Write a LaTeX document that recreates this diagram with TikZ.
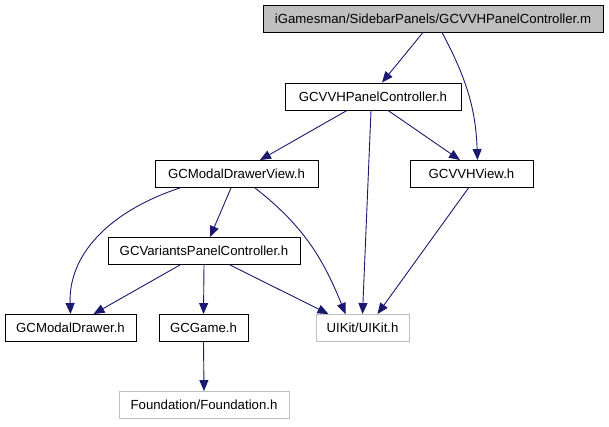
\documentclass[tikz,border=0pt]{standalone}
\usepackage{fontspec}
\setmainfont{Liberation Sans}
\usetikzlibrary{arrows.meta,positioning}
\definecolor{EdgeBlue}{RGB}{25,25,112}
\definecolor{BoxGray}{RGB}{191,191,191}

\begin{document}
\begin{tikzpicture}[x=1pt,y=-1pt,>={Triangle[length=11pt,width=9pt]},
    file/.style={draw=black,fill=white,line width=.9pt,minimum height=27pt,inner sep=0pt,
      font=\fontsize{13.2}{15}\selectfont},
    extfile/.style={file,draw=BoxGray},
    mainfile/.style={file,fill=BoxGray},
    dep/.style={->,EdgeBlue,line width=.9pt}]
  \useasboundingbox (0,0) rectangle (609,427);
  % files
  \node[mainfile,minimum width=340pt] (top) at (433,18.5) {iGamesman/SidebarPanels/GCVVHPanelController.m};
  \node[file,minimum width=176pt] (panel) at (373,96.5) {GCVVHPanelController.h};
  \node[file,minimum width=163pt] (drawerview) at (236.5,174) {GCModalDrawerView.h};
  \node[file,minimum width=123pt] (vvhview) at (471.5,174) {GCVVHView.h};
  \node[file,minimum width=192pt] (variants) at (204,251) {GCVariantsPanelController.h};
  \node[file,minimum width=131pt] (drawer) at (70.5,328) {GCModalDrawer.h};
  \node[file,minimum width=89pt] (game) at (203.5,328) {GCGame.h};
  \node[extfile,minimum width=93pt] (uikit) at (362.5,328) {UIKit/UIKit.h};
  \node[extfile,minimum width=170pt] (foundation) at (204,405) {Foundation/Foundation.h};
  % includes
  \draw[dep] ([xshift=-10pt]top.south) -- ([xshift=9pt]panel.north);
  \draw[dep] ([xshift=9pt]top.south) to[out=-62,in=92] ([xshift=6pt]vvhview.north);
  \draw[dep] ([xshift=-26pt]panel.south) -- ([xshift=23.5pt]drawerview.north);
  \draw[dep] ([xshift=-2pt]panel.south) -- (uikit.north);
  \draw[dep] ([xshift=15pt]panel.south) -- ([xshift=-11.5pt]vvhview.north);
  \draw[dep] ([xshift=-56.5pt]drawerview.south) to[out=-162,in=92] (drawer.north);
  \draw[dep] ([xshift=-5.5pt]drawerview.south) -- ([xshift=6pt]variants.north);
  \draw[dep] ([xshift=18.5pt]drawerview.south) to[out=-38,in=112] ([xshift=-17pt]uikit.north);
  \draw[dep] ([xshift=-3pt]vvhview.south) -- ([xshift=15pt]uikit.north);
  \draw[dep] ([xshift=-24pt]variants.south) -- ([xshift=23pt]drawer.north);
  \draw[dep] (variants.south) -- (game.north);
  \draw[dep] ([xshift=26pt]variants.south) -- ([xshift=-34pt]uikit.north);
  \draw[dep] (game.south) -- (foundation.north);
\end{tikzpicture}
\end{document}
